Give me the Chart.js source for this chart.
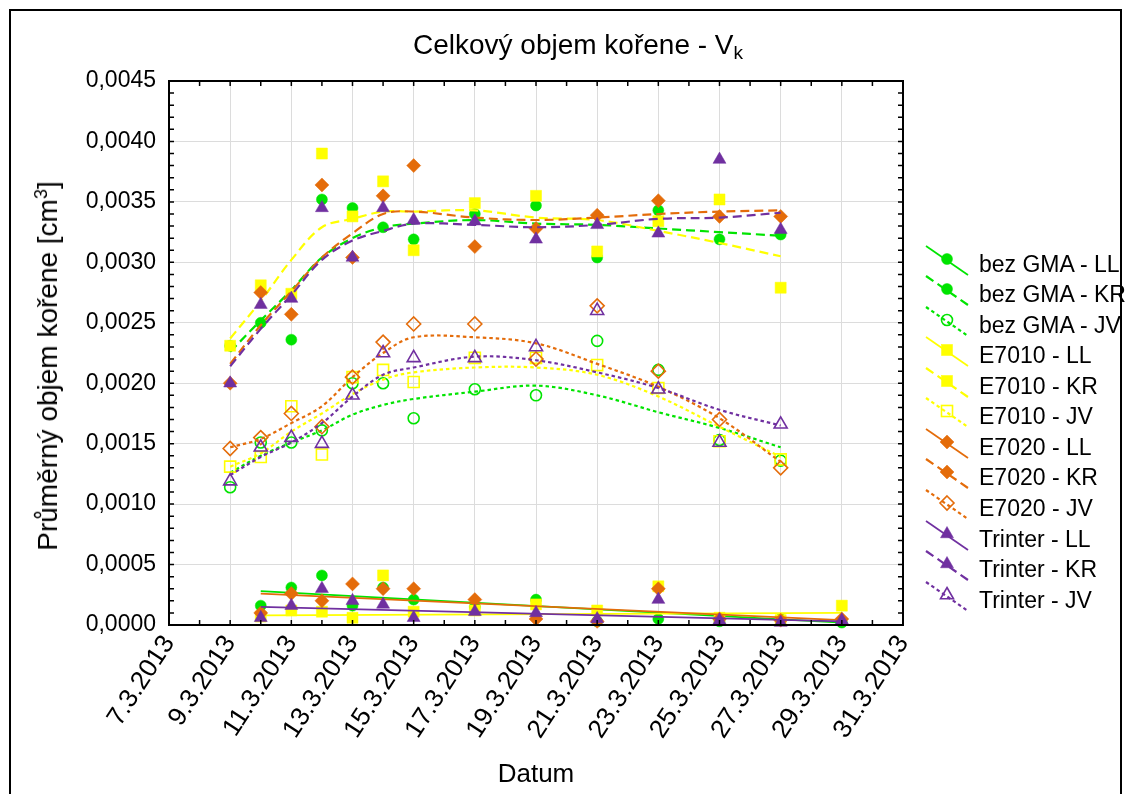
<!DOCTYPE html>
<html lang="cs">
<head>
<meta charset="UTF-8">
<title>Celkový objem kořene</title>
<script src="https://cdn.jsdelivr.net/npm/chart.js@4.4.1/dist/chart.umd.min.js"></script>
<style>
    body { margin: 0; background: #fff; font-family: "Liberation Sans", Arial, sans-serif; color: #000; }
    #wrap { position: relative; width: 1127px; height: 794px; overflow: hidden; }
    #frame { position: absolute; left: 9px; top: 9px; width: 1109px; height: 820px; border: 2px solid #000; }
    #myChart { position: absolute; left: 0; top: 0; }
    #title { position: absolute; left: 0; width: 1156px; top: 28px; text-align: center; font-size: 28px; line-height: 34px; white-space: nowrap; }
    #title sub { font-size: 19px; line-height: 0; vertical-align: -5px; }
    #xTitle { position: absolute; left: 0; width: 1072px; top: 758px; text-align: center; font-size: 26px; line-height: 30px; }
    #yTitle { position: absolute; left: 48px; top: 366px; width: 0; height: 0; }
    #yTitle span { position: absolute; left: 0; top: 0; white-space: nowrap; font-size: 28px; line-height: 32px;
                   transform: translate(-50%, -50%) rotate(-90deg); }
    #yTitle sup { font-size: 18px; line-height: 0; vertical-align: 10px; }
    #legend { position: absolute; left: 0; top: 0; }
    .row { position: absolute; left: 921px; height: 34px; }
    .row svg { position: absolute; left: 0; top: 0; }
    .row span { position: absolute; left: 58px; top: 2px; font-size: 23px; line-height: 34px; white-space: nowrap; }
</style>
</head>
<body>
<div id="wrap">
    <div id="frame"></div>
    <canvas id="myChart" width="1127" height="794"></canvas>
    <div id="title">Celkový objem kořene - V<sub>k</sub></div>
    <div id="xTitle">Datum</div>
    <div id="yTitle"><span>Průměrný objem kořene [cm<sup>3</sup>]</span></div>
    <div id="legend"></div>
</div>
<script>
// dny v březnu 2013
const days = [9, 10, 11, 12, 13, 14, 15, 17, 19, 21, 23, 25, 27];
const daysLL = [10, 11, 12, 13, 14, 15, 17, 19, 21, 23, 25, 27, 29];
const fitDaysLL = [10, 29];
const xTickDays = [7, 9, 11, 13, 15, 17, 19, 21, 23, 25, 27, 29, 31];

// namerene hodnoty [cm3]
const bezGmaLL = [0.00016, 0.00031, 0.00041, 0.00016, 0.00031, 0.00021, 0.00015, 0.00021, 0.00003, 0.00005, 0.00003, 0.00005, 0.00002];
const bezGmaKR = [0.00231, 0.00250, 0.00236, 0.00352, 0.00345, 0.00329, 0.00319, 0.00340, 0.00347, 0.00304, 0.00343, 0.00319, 0.00323];
const bezGmaJV = [0.00114, 0.00151, 0.00151, 0.00161, 0.00200, 0.00200, 0.00171, 0.00195, 0.00190, 0.00235, 0.00211, 0.00153, 0.00136];
const e7010LL = [0.00007, 0.00012, 0.00011, 0.00006, 0.00041, 0.00011, 0.00012, 0.00017, 0.00012, 0.00032, 0.00006, 0.00004, 0.00016];
const e7010KR = [0.00231, 0.00281, 0.00274, 0.00390, 0.00338, 0.00367, 0.00310, 0.00349, 0.00355, 0.00309, 0.00334, 0.00352, 0.00279];
const e7010JV = [0.00131, 0.00139, 0.00181, 0.00141, 0.00205, 0.00211, 0.00201, 0.00221, 0.00221, 0.00215, 0.00196, 0.00152, 0.00137];
const e7020LL = [0.00010, 0.00026, 0.00020, 0.00034, 0.00030, 0.00030, 0.00021, 0.00005, 0.00003, 0.00030, 0.00005, 0.00004, 0.00005];
const e7020KR = [0.00200, 0.00275, 0.00257, 0.00364, 0.00304, 0.00355, 0.00380, 0.00313, 0.00328, 0.00339, 0.00351, 0.00338, 0.00338];
const e7020JV = [0.00146, 0.00155, 0.00175, 0.00164, 0.00205, 0.00234, 0.00249, 0.00249, 0.00220, 0.00264, 0.00210, 0.00170, 0.00130];
const trinterLL = [0.00006, 0.00016, 0.00030, 0.00020, 0.00017, 0.00006, 0.00011, 0.00010, 0.00005, 0.00021, 0.00004, 0.00002, 0.00004];
const trinterKR = [0.00200, 0.00265, 0.00270, 0.00345, 0.00304, 0.00345, 0.00335, 0.00334, 0.00319, 0.00331, 0.00324, 0.00385, 0.00327];
const trinterJV = [0.00119, 0.00147, 0.00155, 0.00150, 0.00190, 0.00225, 0.00221, 0.00221, 0.00230, 0.00260, 0.00195, 0.00151, 0.00166];

// prolozene krivky
const bezGmaLLFit = [0.00028, 0.00002];
const e7010LLFit = [0.00008, 0.00010];
const e7020LLFit = [0.00026, 0.00004];
const trinterLLFit = [0.00015, 0.00003];
const bezGmaKRFit = [0.00226, 0.00252, 0.00277, 0.00304, 0.00320, 0.00329, 0.00332, 0.00335, 0.00332, 0.00331, 0.00328, 0.00325, 0.00322];
const e7010KRFit = [0.00237, 0.00268, 0.00302, 0.00329, 0.00336, 0.00342, 0.00342, 0.00343, 0.00337, 0.00335, 0.00326, 0.00316, 0.00305];
const e7020KRFit = [0.00216, 0.00248, 0.00276, 0.00304, 0.00324, 0.00340, 0.00342, 0.00337, 0.00335, 0.00337, 0.00340, 0.00342, 0.00343];
const trinterKRFit = [0.00214, 0.00245, 0.00273, 0.00302, 0.00318, 0.00326, 0.00332, 0.00331, 0.00329, 0.00331, 0.00336, 0.00337, 0.00341];
const bezGmaJVFit = [0.00126, 0.00140, 0.00151, 0.00161, 0.00174, 0.00182, 0.00187, 0.00193, 0.00198, 0.00190, 0.00176, 0.00163, 0.00147];
const e7010JVFit = [0.00131, 0.00142, 0.00160, 0.00175, 0.00191, 0.00203, 0.00209, 0.00213, 0.00213, 0.00207, 0.00189, 0.00164, 0.00139];
const e7020JVFit = [0.00147, 0.00154, 0.00167, 0.00181, 0.00205, 0.00225, 0.00238, 0.00238, 0.00233, 0.00216, 0.00197, 0.00171, 0.00135];
const trinterJVFit = [0.00124, 0.00139, 0.00151, 0.00167, 0.00189, 0.00207, 0.00213, 0.00222, 0.00219, 0.00209, 0.00196, 0.00178, 0.00165];

const GREEN = '#00e400', YELLOW = '#ffff00', ORANGE = '#e46c0a', PURPLE = '#7030a0';
const SOLID = [], DASH = [9, 5], DOT = [3.5, 3];

var series = [
    { name: 'bez GMA - LL', color: GREEN, shape: 'circle', open: false, dash: SOLID, x: daysLL, y: bezGmaLL, fx: fitDaysLL, fy: bezGmaLLFit },
    { name: 'bez GMA - KR', color: GREEN, shape: 'circle', open: false, dash: DASH, x: days, y: bezGmaKR, fx: days, fy: bezGmaKRFit },
    { name: 'bez GMA - JV', color: GREEN, shape: 'circle', open: true, dash: DOT, x: days, y: bezGmaJV, fx: days, fy: bezGmaJVFit },
    { name: 'E7010 - LL', color: YELLOW, shape: 'rect', open: false, dash: SOLID, x: daysLL, y: e7010LL, fx: fitDaysLL, fy: e7010LLFit },
    { name: 'E7010 - KR', color: YELLOW, shape: 'rect', open: false, dash: DASH, x: days, y: e7010KR, fx: days, fy: e7010KRFit },
    { name: 'E7010 - JV', color: YELLOW, shape: 'rect', open: true, dash: DOT, x: days, y: e7010JV, fx: days, fy: e7010JVFit },
    { name: 'E7020 - LL', color: ORANGE, shape: 'rectRot', open: false, dash: SOLID, x: daysLL, y: e7020LL, fx: fitDaysLL, fy: e7020LLFit },
    { name: 'E7020 - KR', color: ORANGE, shape: 'rectRot', open: false, dash: DASH, x: days, y: e7020KR, fx: days, fy: e7020KRFit },
    { name: 'E7020 - JV', color: ORANGE, shape: 'rectRot', open: true, dash: DOT, x: days, y: e7020JV, fx: days, fy: e7020JVFit },
    { name: 'Trinter - LL', color: PURPLE, shape: 'triangle', open: false, dash: SOLID, x: daysLL, y: trinterLL, fx: fitDaysLL, fy: trinterLLFit },
    { name: 'Trinter - KR', color: PURPLE, shape: 'triangle', open: false, dash: DASH, x: days, y: trinterKR, fx: days, fy: trinterKRFit },
    { name: 'Trinter - JV', color: PURPLE, shape: 'triangle', open: true, dash: DOT, x: days, y: trinterJV, fx: days, fy: trinterJVFit }
];

var radius = { circle: 5.5, rect: 7.8, rectRot: 7, triangle: 7.5 };

var pairs = function(xs, ys) {
    return xs.map(function(d, i) { return { x: d, y: ys[i] }; });
};

var datasets = [];
var n = series.length * 2;
series.forEach(function(s) {
    // prolozena krivka
    datasets.push({
        type: 'line',
        data: pairs(s.fx, s.fy),
        borderColor: s.color,
        borderWidth: s.dash.length ? 2.2 : 1.7,
        borderDash: s.dash,
        pointRadius: 0,
        tension: s.fx.length > 2 ? 0.35 : 0,
        fill: false,
        order: n - datasets.length
    });
    // body
    datasets.push({
        type: 'scatter',
        data: pairs(s.x, s.y),
        showLine: false,
        pointStyle: s.shape,
        pointRadius: radius[s.shape],
        pointBackgroundColor: s.open ? 'rgba(255,255,255,0)' : s.color,
        pointBorderColor: s.color,
        pointBorderWidth: s.open ? 1.6 : 0.5,
        clip: 10,
        order: n - datasets.length
    });
});

// ramecek grafu a vnitrni carky
const frameTicks = {
    id: 'frameTicks',
    afterDraw: function(chart) {
        var ctx = chart.ctx, a = chart.chartArea, x = chart.scales.x, y = chart.scales.y;
        ctx.save();
        ctx.strokeStyle = '#000';
        ctx.lineWidth = 2;
        ctx.strokeRect(a.left, a.top, a.right - a.left, a.bottom - a.top);
        ctx.lineWidth = 1.5;
        ctx.beginPath();
        for (var d = 7; d <= 31; d++) {
            var px = x.getPixelForValue(d);
            ctx.moveTo(px, a.bottom); ctx.lineTo(px, a.bottom - 5);
            ctx.moveTo(px, a.top); ctx.lineTo(px, a.top + 5);
        }
        for (var i = 0; i <= 45; i++) {
            var py = y.getPixelForValue(i / 10000);
            ctx.moveTo(a.left, py); ctx.lineTo(a.left + 5, py);
            ctx.moveTo(a.right, py); ctx.lineTo(a.right - 5, py);
        }
        ctx.stroke();
        ctx.restore();
    }
};

var family = '"Liberation Sans", Arial, sans-serif';

const ctx = document.getElementById('myChart').getContext('2d');
const myChart = new Chart(ctx, {
    type: 'scatter',
    data: { datasets: datasets },
    options: {
        responsive: false,
        animation: false,
        layout: { padding: { left: 0, top: 81, right: 224, bottom: 0 } },
        plugins: { legend: { display: false }, title: { display: false }, tooltip: { enabled: false } },
        scales: {
            x: {
                type: 'linear', min: 7, max: 31,
                afterBuildTicks: function(s) { s.ticks = xTickDays.map(function(v) { return { value: v }; }); },
                afterFit: function(s) { s.height = 169; },
                ticks: {
                    font: { family: family, size: 26 }, color: '#000', padding: 5,
                    minRotation: 57, maxRotation: 57, autoSkip: false,
                    callback: function(v) { return v + '.3.2013'; }
                },
                grid: { color: '#dcdcdc', lineWidth: 1, drawTicks: false },
                border: { display: false }
            },
            y: {
                min: 0, max: 0.0045,
                afterFit: function(s) { s.width = 169; },
                ticks: {
                    stepSize: 0.0005, font: { family: family, size: 23 }, color: '#000', padding: 13,
                    callback: function(v) { return v.toFixed(4).replace('.', ','); }
                },
                grid: { color: '#dcdcdc', lineWidth: 1, drawTicks: false },
                border: { display: false }
            }
        }
    },
    plugins: [frameTicks]
});

// legenda
var marker = function(s, cx, cy) {
    var fill = s.open ? 'none' : s.color;
    var st = ' fill="' + fill + '" stroke="' + s.color + '" stroke-width="' + (s.open ? 1.6 : 0.5) + '"';
    var r = radius[s.shape];
    if (s.shape === 'circle') return '<circle cx="' + cx + '" cy="' + cy + '" r="' + r + '"' + st + '/>';
    if (s.shape === 'rect') {
        var h = r * Math.SQRT1_2;
        return '<rect x="' + (cx - h) + '" y="' + (cy - h) + '" width="' + 2 * h + '" height="' + 2 * h + '"' + st + '/>';
    }
    if (s.shape === 'rectRot') {
        return '<polygon points="' + cx + ',' + (cy - r) + ' ' + (cx + r) + ',' + cy + ' ' + cx + ',' + (cy + r) + ' ' + (cx - r) + ',' + cy + '"' + st + '/>';
    }
    var w = r * Math.sin(2 * Math.PI / 3);
    return '<polygon points="' + cx + ',' + (cy - r) + ' ' + (cx + w) + ',' + (cy + r / 2) + ' ' + (cx - w) + ',' + (cy + r / 2) + '"' + st + '/>';
};

var legend = document.getElementById('legend');
series.forEach(function(s, i) {
    var top = 244.5 + i * 30.57;
    var row = document.createElement('div');
    row.className = 'row';
    row.style.top = top + 'px';
    var dash = s.dash.length ? ' stroke-dasharray="' + s.dash.join(' ') + '"' : '';
    row.innerHTML = '<svg width="56" height="34">' +
        '<line x1="5" y1="1" x2="47" y2="30" stroke="' + s.color + '" stroke-width="' + (s.dash.length ? 2.2 : 1.7) + '"' + dash + '/>' +
        marker(s, 26, 14) + '</svg><span>' + s.name + '</span>';
    legend.appendChild(row);
});
</script>
</body>
</html>
